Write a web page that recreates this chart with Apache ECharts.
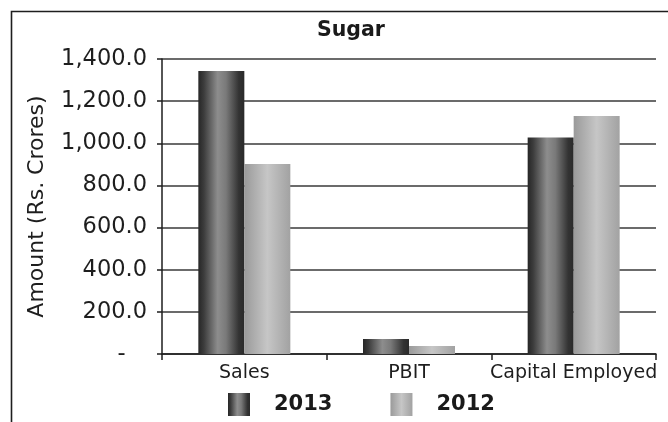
<!DOCTYPE html>
<html>
<head>
<meta charset="utf-8">
<script src="https://cdn.jsdelivr.net/npm/echarts@6/dist/echarts.min.js"></script>
<style>
html,body{margin:0;padding:0;background:#fff;}
#chart{width:668px;height:422px;}
</style>
</head>
<body>
<div id="chart"></div>
<script>
const categories = ['Sales', 'PBIT', 'Capital Employed'];
const series2013 = [1343, 71, 1027];
const series2012 = [902, 38, 1129];
const seriesNames = ['2013', '2012'];
const chartTitle = 'Sugar';
const yAxisTitle = 'Amount (Rs. Crores)';

const FONT = 'DejaVu Sans';
const chart = echarts.init(document.getElementById('chart'), null, {renderer: 'canvas'});

const grad2013 = new echarts.graphic.LinearGradient(0, 0, 1, 0, [
  {offset: 0, color: '#262626'},
  {offset: 0.12, color: '#3c3c3c'},
  {offset: 0.42, color: '#8d8d8d'},
  {offset: 0.6, color: '#7a7a7a'},
  {offset: 0.88, color: '#333333'},
  {offset: 1, color: '#2a2a2a'}
]);
const grad2012 = new echarts.graphic.LinearGradient(0, 0, 1, 0, [
  {offset: 0, color: '#9a9a9a'},
  {offset: 0.5, color: '#c6c6c6'},
  {offset: 0.8, color: '#b0b0b0'},
  {offset: 1, color: '#a2a2a2'}
]);

function fmt(v) {
  if (v === 0) return '-   ';
  return v.toLocaleString('en-US', {minimumFractionDigits: 1, maximumFractionDigits: 1});
}

chart.setOption({
  animation: false,
  backgroundColor: '#ffffff',
  title: {
    text: chartTitle,
    left: 317,
    top: 20,
    padding: 0,
    textStyle: {fontFamily: FONT, fontSize: 20.5, fontWeight: 'bold', color: '#1a1a1a'}
  },
  graphic: [{
    type: 'rect',
    shape: {x: 11.5, y: 11.5, width: 720, height: 500},
    style: {fill: null, stroke: '#1e1e1e', lineWidth: 1.6},
    silent: true
  }],
  legend: {
    left: 228,
    top: 393,
    padding: 0,
    itemWidth: 22,
    itemHeight: 23,
    itemGap: 58,
    icon: 'rect',
    data: seriesNames,
    textStyle: {fontFamily: FONT, fontSize: 21, fontWeight: 'bold', color: '#1a1a1a', padding: [0, 0, 0, 19]}
  },
  grid: {left: 162, right: 12, top: 59, bottom: 68, containLabel: false},
  xAxis: {
    type: 'category',
    data: categories,
    axisLine: {show: true, lineStyle: {color: '#1e1e1e', width: 1.5}},
    axisTick: {show: true, length: 6, lineStyle: {color: '#1e1e1e', width: 1.5}},
    axisLabel: {interval: 0, fontFamily: FONT, fontSize: 19, color: '#1e1e1e', margin: 10}
  },
  yAxis: {
    type: 'value',
    min: 0,
    max: 1400,
    interval: 200,
    name: yAxisTitle,
    nameLocation: 'middle',
    nameGap: 114,
    nameTextStyle: {fontFamily: FONT, fontSize: 22, color: '#1e1e1e'},
    axisLine: {show: true, lineStyle: {color: '#1e1e1e', width: 1.5}},
    axisTick: {show: true, length: 5, lineStyle: {color: '#1e1e1e', width: 1.5}},
    axisLabel: {fontFamily: FONT, fontSize: 22.5, color: '#1e1e1e', margin: 15, formatter: fmt},
    splitLine: {show: true, lineStyle: {color: '#3a3a3a', width: 1.5}}
  },
  series: [
    {
      name: seriesNames[0],
      type: 'bar',
      data: series2013,
      barWidth: 46,
      barGap: '0%',
      itemStyle: {color: grad2013}
    },
    {
      name: seriesNames[1],
      type: 'bar',
      data: series2012,
      barWidth: 46,
      barGap: '0%',
      itemStyle: {color: grad2012}
    }
  ]
});
</script>
</body>
</html>
